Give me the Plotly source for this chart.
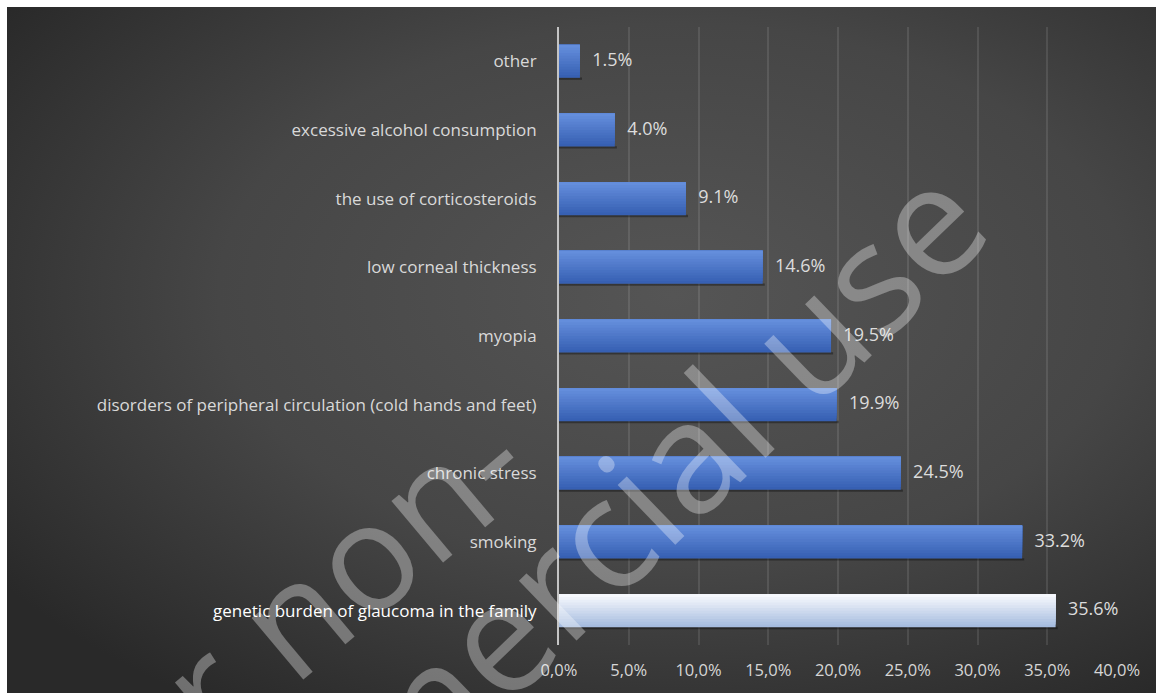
import base64
import plotly.graph_objects as go

# ---- data (bottom to top) ----
categories = [
    "genetic burden of glaucoma in the family",
    "smoking",
    "chronic stress",
    "disorders of peripheral circulation (cold hands and feet)",
    "myopia",
    "low corneal thickness",
    "the use of corticosteroids",
    "excessive alcohol consumption",
    "other",
]
values = [35.6, 33.2, 24.5, 19.9, 19.5, 14.6, 9.1, 4.0, 1.5]
value_labels = ["35.6%", "33.2%", "24.5%", "19.9%", "19.5%", "14.6%", "9.1%", "4.0%", "1.5%"]
x_tickvals = [0, 5, 10, 15, 20, 25, 30, 35, 40]
x_ticktext = ["0,0%", "5,0%", "10,0%", "15,0%", "20,0%", "25,0%", "30,0%", "35,0%", "40,0%"]

W, H = 1156, 693
ML, MR, MT, MB = 559, 39, 27, 48
PW, PH = W - ML - MR, H - MT - MB

fig = go.Figure()

# ---- background image (radial gradient) ----
svg = ('<svg xmlns="http://www.w3.org/2000/svg" width="1149" height="686" viewBox="0 0 1149 686" '
       'preserveAspectRatio="none"><defs><radialGradient id="g" cx="0.58" cy="0.42" r="0.72">'
       '<stop offset="0" stop-color="#555555"/><stop offset="0.55" stop-color="#464646"/>'
       '<stop offset="1" stop-color="#292929"/></radialGradient></defs>'
       '<rect width="1149" height="686" fill="url(#g)"/></svg>')
src = "data:image/svg+xml;base64," + base64.b64encode(svg.encode()).decode()
fig.add_layout_image(
    source=src, xref="paper", yref="paper",
    x=(7 - ML) / PW, y=(H - MB - 7) / PH,
    sizex=(W - 7) / PW, sizey=(H - 7) / PH,
    sizing="stretch", xanchor="left", yanchor="top", layer="below",
)

# ---- bars: overlapping layers give a smooth vertical gradient ----
def lerp(c1, c2, t):
    return "#%02x%02x%02x" % tuple(round(a + (b - a) * t) for a, b in zip(c1, c2))

blue_top, blue_bot = (0x64, 0x8e, 0xdc), (0x37, 0x60, 0xb3)
white_top, white_bot = (0xf7, 0xf9, 0xfd), (0xa6, 0xbc, 0xdf)
bw = 0.48
N = 12
ypos = list(range(len(categories)))
# shadow
fig.add_trace(go.Bar(
    y=ypos, x=[v + 0.15 for v in values], orientation="h",
    width=0.035, offset=-bw / 2 - 0.03, marker=dict(color="rgba(0,0,0,0.35)", line=dict(width=0)),
    hoverinfo="skip", showlegend=False,
))
for k in range(N):
    frac = k / (N - 1)  # 0 bottom -> 1 top
    cols = [lerp(white_bot, white_top, frac) if i == 0 else lerp(blue_bot, blue_top, frac)
            for i in range(len(categories))]
    start = -bw / 2 + k * bw / N
    fig.add_trace(go.Bar(
        y=ypos, x=values, orientation="h",
        width=bw / 2 - start, offset=start,
        marker=dict(color=cols, line=dict(width=0)),
        hoverinfo="skip", showlegend=False,
    ))

# ---- value labels ----
fig.add_trace(go.Scatter(
    y=ypos, x=values, mode="text",
    text=["\u00a0\u00a0\u2009" + s for s in value_labels], textposition="middle right",
    textfont=dict(family="Open Sans", size=18, color="#dcdcdc"),
    hoverinfo="skip", showlegend=False, cliponaxis=False,
))

# ---- watermark ----
wm_color = "rgba(255,255,255,0.33)"
fig.add_annotation(text="For non-", xref="paper", yref="paper",
                   x=(277 - ML) / PW, y=(H - MB - 626) / PH,
                   xanchor="center", yanchor="middle", textangle=-40,
                   showarrow=False, font=dict(family="Open Sans", size=150, color=wm_color))
fig.add_annotation(text="commercial use", xref="paper", yref="paper",
                   x=(545 - ML) / PW, y=(H - MB - 586) / PH,
                   xanchor="center", yanchor="middle", textangle=-44,
                   showarrow=False, font=dict(family="Open Sans", size=155, color=wm_color))

ytext = [("<span style='color:#ffffff'>%s</span>" % c) if i == 0 else c
         for i, c in enumerate(categories)]

fig.update_layout(
    width=W, height=H,
    margin=dict(l=ML, r=MR, t=MT, b=MB, pad=0),
    paper_bgcolor="#ffffff", plot_bgcolor="rgba(0,0,0,0)",
    barmode="overlay", showlegend=False,
    xaxis=dict(range=[0, 40], tickvals=x_tickvals, ticktext=x_ticktext,
               showgrid=True, gridcolor="rgba(255,255,255,0.10)", gridwidth=2,
               zeroline=False, showline=False, ticks="",
               tickfont=dict(family="Open Sans", size=16.5, color="#d6d6d6"),
               ticklabelstandoff=13, fixedrange=True),
    yaxis=dict(range=[-0.5, len(categories) - 0.5], tickvals=ypos,
               ticktext=ytext, showgrid=False, zeroline=False,
               showline=True, linecolor="#c4c4c4", linewidth=2, ticks="",
               tickfont=dict(family="Open Sans", size=17, color="#d9d9d9"),
               ticklabelstandoff=17, fixedrange=True),
)

fig.write_html("out.html")
